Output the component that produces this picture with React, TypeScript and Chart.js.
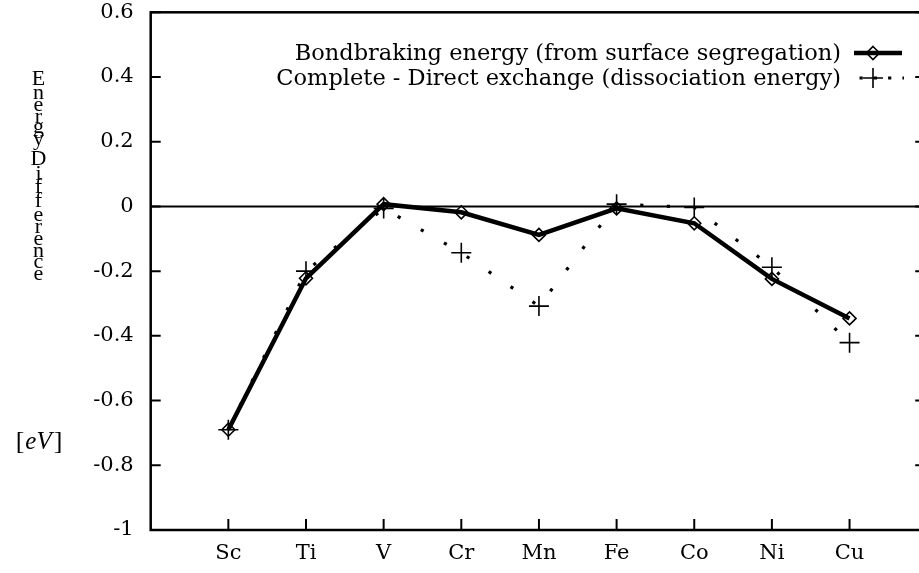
import { useEffect, useRef } from "react";
import { Chart, registerables } from "chart.js";

Chart.register(...registerables);

// ---- data ----
const elements = ["Sc", "Ti", "V", "Cr", "Mn", "Fe", "Co", "Ni", "Cu"];
const bondBreaking = [-0.69, -0.222, 0.007, -0.018, -0.088, -0.006, -0.052, -0.224, -0.346];
const directExchange = [-0.69, -0.2, -0.006, -0.143, -0.308, 0.007, -0.003, -0.188, -0.421];
const seriesLabels = [
  "Bondbraking energy (from surface segregation)",
  "Complete - Direct exchange (dissociation energy)",
];
const yTickValues = [-1, -0.8, -0.6, -0.4, -0.2, 0, 0.2, 0.4, 0.6];
const yTitleLetters = ["E", "n", "e", "r", "g", "y", "D", "i", "f", "f", "e", "r", "e", "n", "c", "e"];
const yTitleUnit = ["[", "eV", "]"];

const FONT = "'DejaVu Serif', serif";
const TITLE_FONT = "'Liberation Serif', 'DejaVu Serif', serif";
const CANVAS_W = 940;
const CANVAS_H = 573;

function drawDiamond(ctx: CanvasRenderingContext2D, x: number, y: number, r: number) {
  ctx.beginPath();
  ctx.moveTo(x, y - r);
  ctx.lineTo(x + r, y);
  ctx.lineTo(x, y + r);
  ctx.lineTo(x - r, y);
  ctx.closePath();
  ctx.stroke();
}
function drawPlus(ctx: CanvasRenderingContext2D, x: number, y: number, r: number) {
  ctx.beginPath();
  ctx.moveTo(x - r, y);
  ctx.lineTo(x + r, y);
  ctx.moveTo(x, y - r);
  ctx.lineTo(x, y + r);
  ctx.stroke();
}

const framePlugin = {
  id: "gnuFrame",
  beforeDatasetsDraw(chart: any) {
    const { ctx, chartArea: a, scales } = chart;
    const xs = scales.x;
    const ys = scales.y;
    ctx.save();
    ctx.strokeStyle = "#000";
    ctx.lineCap = "butt";
    // zero line
    ctx.lineWidth = 2;
    const y0 = ys.getPixelForValue(0);
    ctx.beginPath();
    ctx.moveTo(a.left, y0);
    ctx.lineTo(a.right, y0);
    ctx.stroke();
    // y ticks (inward, mirrored)
    yTickValues.forEach((v) => {
      const py = ys.getPixelForValue(v);
      ctx.beginPath();
      ctx.moveTo(a.left, py);
      ctx.lineTo(a.left + 10, py);
      ctx.moveTo(a.right - 12, py);
      ctx.lineTo(a.right, py);
      ctx.stroke();
    });
    // x ticks (inward, bottom only)
    elements.forEach((_, i) => {
      const px = xs.getPixelForValue(i + 1);
      ctx.beginPath();
      ctx.moveTo(px, a.bottom);
      ctx.lineTo(px, a.bottom - 11);
      ctx.stroke();
    });
    // frame
    ctx.lineWidth = 2.5;
    ctx.strokeRect(a.left, a.top, a.right - a.left, a.bottom - a.top);
    ctx.restore();
  },
  afterDraw(chart: any) {
    const { ctx } = chart;
    ctx.save();
    ctx.fillStyle = "#000";
    ctx.strokeStyle = "#000";
    // ---- legend ----
    const labels = chart.data.datasets.map((d: any) => d.label);
    ctx.font = `22.5px ${FONT}`;
    ctx.textAlign = "right";
    ctx.textBaseline = "middle";
    const rowY = [53, 78];
    ctx.fillText(labels[0], 841, rowY[0] + 1);
    ctx.fillText(labels[1], 841, rowY[1] + 1);
    // sample 1
    ctx.lineWidth = 4.5;
    ctx.beginPath();
    ctx.moveTo(854, rowY[0]);
    ctx.lineTo(902, rowY[0]);
    ctx.stroke();
    ctx.lineWidth = 1.6;
    drawDiamond(ctx, 873, rowY[0], 6.5);
    // sample 2
    ctx.lineWidth = 3.2;
    ctx.setLineDash([3.2, 11.1]);
    ctx.beginPath();
    ctx.moveTo(859.5, rowY[1]);
    ctx.lineTo(904, rowY[1]);
    ctx.stroke();
    ctx.setLineDash([]);
    ctx.lineWidth = 1.6;
    drawPlus(ctx, 873, rowY[1], 10);

    // ---- y title (stacked letters) ----
    const baselines = [85, 98.5, 110.5, 122.5, 132.5, 145, 165, 180, 192.5, 207, 221, 233, 245, 256.5, 268, 279.5];
    ctx.font = `22px ${TITLE_FONT}`;
    ctx.textAlign = "center";
    ctx.textBaseline = "alphabetic";
    yTitleLetters.forEach((ch, i) => {
      ctx.fillText(ch, 38.5, baselines[i]);
    });
    // [eV]
    const fUp = `26px ${TITLE_FONT}`;
    const fIt = `italic 25px ${TITLE_FONT}`;
    ctx.textAlign = "left";
    ctx.font = fUp;
    const w0 = ctx.measureText(yTitleUnit[0]).width;
    const w2 = ctx.measureText(yTitleUnit[2]).width;
    ctx.font = fIt;
    const w1 = ctx.measureText(yTitleUnit[1]).width;
    const total = w0 + w1 + w2 + 3;
    let cx = 39 - total / 2;
    const by = 449;
    ctx.font = fUp;
    ctx.fillText(yTitleUnit[0], cx, by);
    cx += w0 + 1;
    ctx.font = fIt;
    ctx.fillText(yTitleUnit[1], cx, by);
    cx += w1 + 2;
    ctx.font = fUp;
    ctx.fillText(yTitleUnit[2], cx, by);
    ctx.restore();
  },
};

function noPadY(s: any, width: number) {
  s.width = width;
  s.paddingTop = 0;
  s.paddingBottom = 0;
}

export default function App() {
  const canvasRef = useRef<HTMLCanvasElement | null>(null);

  useEffect(() => {
    const canvas = canvasRef.current;
    if (!canvas) return;
    const chart = new Chart(canvas, {
      type: "line",
      data: {
        datasets: [
          {
            label: seriesLabels[0],
            data: bondBreaking.map((v, i) => ({ x: i + 1, y: v })),
            borderColor: "#000",
            borderWidth: 4.5,
            pointStyle: "rectRot",
            pointRadius: 6.5,
            pointBorderWidth: 1.6,
            pointBorderColor: "#000",
            pointBackgroundColor: "rgba(0,0,0,0)",
            tension: 0,
            fill: false,
          },
          {
            label: seriesLabels[1],
            data: directExchange.map((v, i) => ({ x: i + 1, y: v })),
            borderColor: "#000",
            borderWidth: 3.2,
            borderDash: [3.2, 23.4],
            borderCapStyle: "butt",
            pointStyle: "cross",
            pointRadius: 10,
            pointBorderWidth: 1.6,
            pointBorderColor: "#000",
            pointBackgroundColor: "#000",
            tension: 0,
            fill: false,
          },
        ],
      },
      options: {
        responsive: false,
        animation: false,
        devicePixelRatio: 1,
        layout: { padding: { top: 12.3, left: 0, right: 0, bottom: 0 } },
        plugins: {
          legend: { display: false },
          tooltip: { enabled: false },
          title: { display: false },
        },
        elements: { line: { borderJoinStyle: "miter" } },
        scales: {
          x: {
            type: "linear",
            min: 0,
            max: 10,
            afterFit: (s: any) => {
              s.height = 43;
              s.paddingLeft = 0;
              s.paddingRight = 0;
            },
            grid: { display: false, drawTicks: false },
            border: { display: false },
            ticks: {
              stepSize: 1,
              autoSkip: false,
              maxRotation: 0,
              padding: 11,
              color: "#000",
              font: { family: FONT, size: 21 },
              callback: (v: any) => {
                const n = Number(v);
                return Number.isInteger(n) && n >= 1 && n <= elements.length ? elements[n - 1] : "";
              },
            },
          },
          y: {
            type: "linear",
            min: -1,
            max: 0.6,
            afterFit: (s: any) => noPadY(s, 150.7),
            grid: { display: false, drawTicks: false },
            border: { display: false },
            ticks: {
              stepSize: 0.2,
              padding: 17,
              color: "#000",
              font: { family: FONT, size: 21 },
              callback: (v: any) => {
                const r = Math.round(Number(v) * 10) / 10;
                return r === 0 ? "0" : String(r);
              },
            },
          },
          y2: {
            type: "linear",
            position: "right",
            min: -1,
            max: 0.6,
            afterFit: (s: any) => noPadY(s, CANVAS_W - 927.2),
            grid: { display: false, drawTicks: false },
            border: { display: false },
            ticks: { display: false },
          },
        },
      },
      plugins: [framePlugin],
    });
    return () => chart.destroy();
  }, []);

  return (
    <div
      style={{
        position: "fixed",
        left: 0,
        top: 0,
        width: 919,
        height: 573,
        overflow: "hidden",
        background: "#fff",
      }}
    >
      <canvas ref={canvasRef} width={CANVAS_W} height={CANVAS_H} style={{ display: "block" }} />
    </div>
  );
}
